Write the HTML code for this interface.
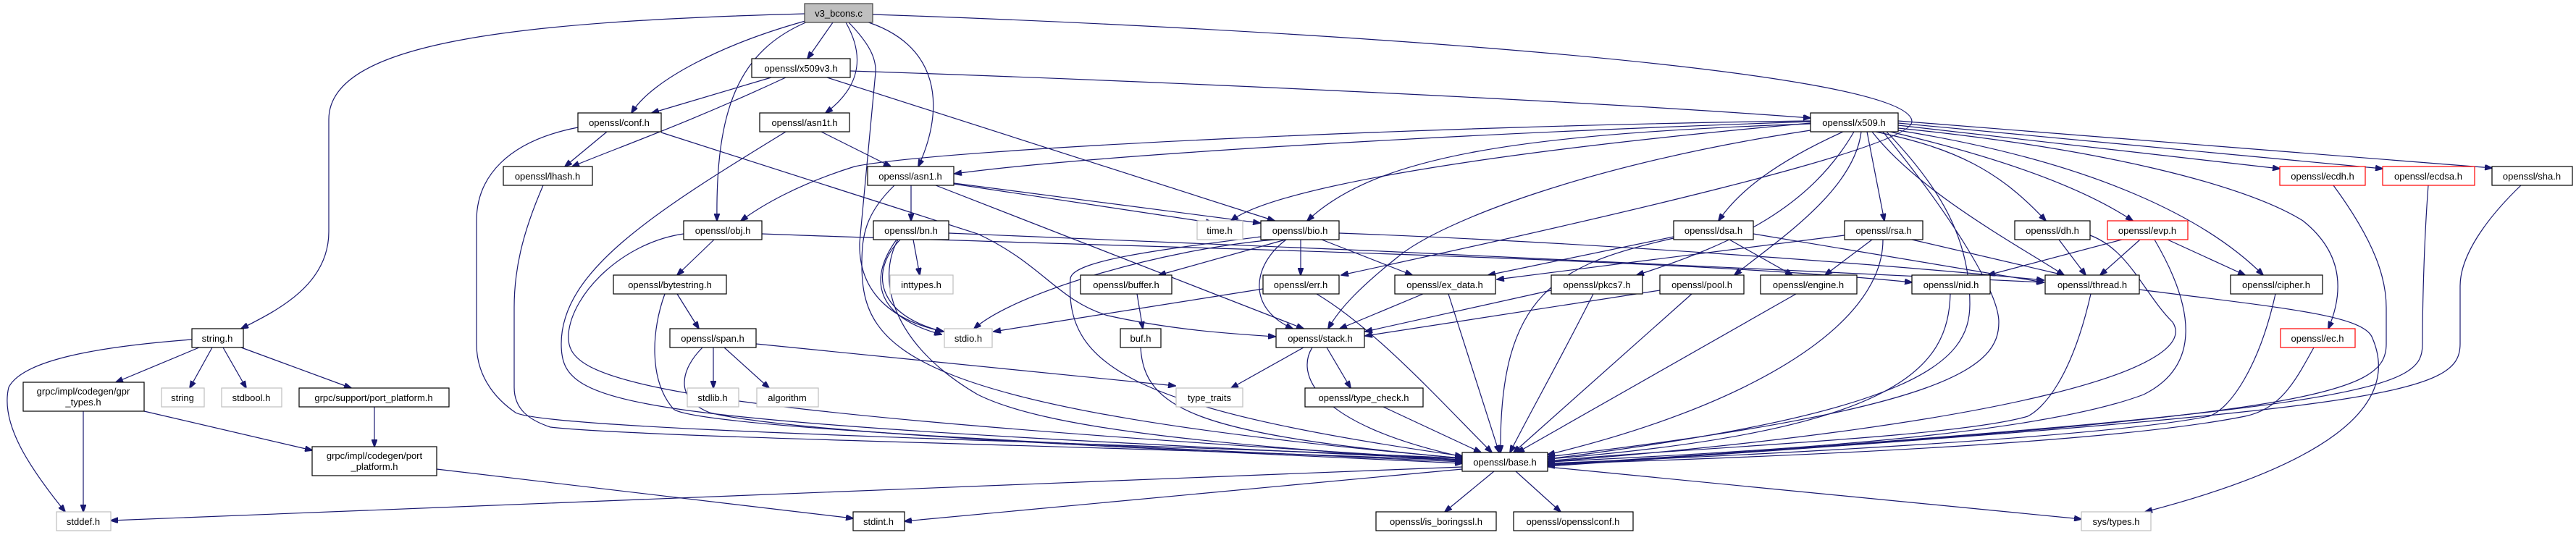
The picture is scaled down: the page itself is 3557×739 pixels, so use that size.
<!DOCTYPE html>
<html><head><meta charset="utf-8"><style>
html,body{margin:0;padding:0;background:#fff;}
svg{display:block;}
text{font-family:"Liberation Sans",sans-serif;font-size:13px;fill:#000;}
.e{fill:none;stroke:#191970;stroke-width:1.2;}
.n{fill:#fff;stroke:#000;stroke-width:1.2;}
.g{fill:#fff;stroke:#bfbfbf;stroke-width:1.2;}
.r{fill:#fff;stroke:#ff0000;stroke-width:1.2;}
</style></head><body>
<svg width="3557" height="739" viewBox="0 0 3557 739" xmlns="http://www.w3.org/2000/svg">
<defs><marker id="a" markerWidth="11" markerHeight="8" refX="10" refY="4" orient="auto" markerUnits="userSpaceOnUse"><path d="M0,0 L11,4 L0,8 z" fill="#191970" stroke="#191970"/></marker></defs>
<g marker-end="url(#a)">
<!-- v3_bcons.c -->
<path class="e" d="M1111,19 C700,30 454,60 454,165 L454,320 C454,395 380,430 333,454"/>
<path class="e" d="M1112,29 C1000,60 900,110 872,156"/>
<path class="e" d="M1150,31 L1115,81"/>
<path class="e" d="M1168,31 C1190,70 1195,115 1140,156"/>
<path class="e" d="M1172,31 C1200,60 1210,80 1209,100 L1187,335 C1185,410 1240,445 1303,458"/>
<path class="e" d="M1190,28 C1300,60 1305,150 1268,230"/>
<path class="e" d="M1115,30 C1020,70 988,150 990,305"/>
<path class="e" d="M1205,20 C1800,40 2640,95 2640,168 C2640,205 2200,305 1852,380"/>
<!-- x509v3.h -->
<path class="e" d="M1174,98 C1600,112 2200,140 2500,163"/>
<path class="e" d="M1065,107 L900,156"/>
<path class="e" d="M1085,107 C950,170 850,205 790,230"/>
<path class="e" d="M1142,107 L1760,305"/>
<!-- conf.h -->
<path class="e" d="M838,182 L780,230"/>
<path class="e" d="M798,176 C700,195 658,245 658,305 L658,475 C658,525 690,555 712,570 C760,595 1500,610 2019,633"/>
<path class="e" d="M913,183 L1350,323 C1440,365 1460,415 1530,436 C1620,456 1700,461 1761,465"/>
<!-- lhash.h -->
<path class="e" d="M750,256 C720,325 710,375 710,425 L710,535 C710,565 730,580 760,590 C900,605 1500,615 2019,636"/>
<!-- asn1t.h -->
<path class="e" d="M1134,182 L1230,230"/>
<path class="e" d="M1085,182 C900,295 775,375 775,475 C775,565 850,580 2019,635"/>
<!-- asn1.h -->
<path class="e" d="M1258,256 L1258,305"/>
<path class="e" d="M1317,254 L1675,308"/>
<path class="e" d="M1317,253 L1740,308"/>
<path class="e" d="M1292,256 L1800,454"/>
<path class="e" d="M1235,256 C1195,295 1190,325 1190,365 C1190,485 1250,565 2019,633"/>
<!-- x509 -> asn1, obj -->
<path class="e" d="M2500,168 C2000,185 1500,215 1318,240"/>
<path class="e" d="M2500,167 C2000,173 1300,205 1180,230 C1100,255 1050,285 1023,305"/>
<!-- bn.h -->
<path class="e" d="M1261,331 L1270,380"/>
<path class="e" d="M1243,331 C1200,375 1210,435 1302,458"/>
<path class="e" d="M1238,331 C1195,390 1215,440 1300,462"/>
<path class="e" d="M1240,331 C1210,385 1230,475 1350,545 C1450,595 1700,615 2019,637"/>
<path class="e" d="M1310,322 C1800,340 2500,375 2822,390"/>
<!-- obj.h -->
<path class="e" d="M986,331 L935,380"/>
<path class="e" d="M944,323 C860,335 790,405 785,461 C780,525 860,565 2019,635"/>
<path class="e" d="M1052,323 C1500,340 2300,355 2640,390"/>
<!-- bytestring.h -->
<path class="e" d="M935,406 L965,454"/>
<path class="e" d="M918,406 C900,455 895,525 930,565 C960,590 1500,615 2019,638"/>
<!-- span.h -->
<path class="e" d="M985,480 L985,536"/>
<path class="e" d="M1000,480 L1062,536"/>
<path class="e" d="M1044,475 L1623,533"/>
<path class="e" d="M970,480 C940,510 930,550 980,570 C1100,600 1600,620 2019,640"/>
<!-- bio.h -->
<path class="e" d="M1760,331 C1600,345 1400,405 1345,454"/>
<path class="e" d="M1775,331 L1600,380"/>
<path class="e" d="M1796,331 L1796,380"/>
<path class="e" d="M1776,331 C1730,365 1720,425 1785,454"/>
<path class="e" d="M1825,331 L1950,380"/>
<path class="e" d="M1849,322 C2200,335 2600,365 2822,387"/>
<path class="e" d="M1741,327 C1600,345 1480,360 1478,385 C1470,505 1560,565 2019,630"/>
<path class="e" d="M2500,171 C2100,185 1900,215 1805,305"/>
<!-- buffer, buf -->
<path class="e" d="M1570,406 L1578,454"/>
<path class="e" d="M1575,480 C1580,565 1650,600 2019,633"/>
<!-- err.h -->
<path class="e" d="M1744,399 L1372,458"/>
<path class="e" d="M1818,406 C1900,455 1990,555 2060,625"/>
<!-- ex_data.h -->
<path class="e" d="M1965,406 L1850,454"/>
<path class="e" d="M2000,406 L2070,625"/>
<!-- stack.h -->
<path class="e" d="M1800,480 L1700,536"/>
<path class="e" d="M1832,480 L1865,536"/>
<path class="e" d="M1812,480 C1790,515 1810,585 2019,631"/>
<path class="e" d="M1910,562 L2045,625"/>
<!-- pkcs7, pool, engine -->
<path class="e" d="M2142,401 L1885,458"/>
<path class="e" d="M2200,406 C2150,505 2110,575 2085,625"/>
<path class="e" d="M2292,401 L1885,464"/>
<path class="e" d="M2336,406 L2090,625"/>
<path class="e" d="M2480,406 L2095,625"/>
<!-- dsa.h -->
<path class="e" d="M2311,327 L2055,380"/>
<path class="e" d="M2388,331 L2475,380"/>
<path class="e" d="M2311,329 C2150,365 2070,405 2072,625"/>
<path class="e" d="M2421,323 L2822,390"/>
<!-- rsa.h -->
<path class="e" d="M2547,325 L2067,386"/>
<path class="e" d="M2585,331 L2520,380"/>
<path class="e" d="M2600,331 C2600,455 2400,565 2137,628"/>
<path class="e" d="M2640,331 L2850,380"/>
<!-- nid, thread -->
<path class="e" d="M2693,406 C2690,505 2630,595 2137,634"/>
<path class="e" d="M2887,406 C2860,525 2820,565 2800,575 C2700,605 2300,620 2137,637"/>
<path class="e" d="M2954,400 C3150,425 3260,435 3275,465 C3320,565 3200,645 2962,707"/>
<!-- base.h -->
<path class="e" d="M2137,645 L2874,717"/>
<path class="e" d="M2019,645 L153,719"/>
<path class="e" d="M2019,648 L1249,720"/>
<path class="e" d="M2063,651 L1995,707"/>
<path class="e" d="M2093,651 L2155,707"/>
<path class="e" d="M603,648 L1178,716"/>
<!-- string.h -->
<path class="e" d="M265,469 C120,480 30,500 12,535 C0,585 40,645 90,707"/>
<path class="e" d="M275,480 L160,528"/>
<path class="e" d="M293,480 L262,536"/>
<path class="e" d="M308,480 L340,536"/>
<path class="e" d="M333,480 L485,536"/>
<path class="e" d="M115,568 L115,707"/>
<path class="e" d="M199,568 L431,622"/>
<path class="e" d="M517,562 L517,617"/>
<!-- x509.h -->
<path class="e" d="M2500,170 C2000,215 1750,265 1700,305"/>
<path class="e" d="M2500,180 C2200,225 1990,305 1930,355 C1880,395 1850,425 1834,454"/>
<path class="e" d="M2545,182 C2450,225 2400,265 2373,305"/>
<path class="e" d="M2560,182 C2500,285 2400,335 2260,380"/>
<path class="e" d="M2570,182 C2560,265 2450,335 2395,380"/>
<path class="e" d="M2578,182 L2602,305"/>
<path class="e" d="M2590,182 C2700,205 2760,235 2825,305"/>
<path class="e" d="M2610,182 C2750,215 2870,255 2945,305"/>
<path class="e" d="M2585,182 C2650,265 2780,335 2850,380"/>
<path class="e" d="M2621,180 C2900,225 3050,305 3125,380"/>
<path class="e" d="M2621,177 C2900,205 3100,255 3180,305 C3230,345 3240,395 3215,454"/>
<path class="e" d="M2621,173 L3148,233"/>
<path class="e" d="M2621,170 L3290,233"/>
<path class="e" d="M2621,167 L3441,232"/>
<path class="e" d="M2600,182 C2700,305 2760,405 2760,445 C2760,505 2700,565 2137,631"/>
<path class="e" d="M2605,182 C2680,260 2720,330 2720,420 C2720,500 2650,570 2137,634"/>
<!-- evp.h -->
<path class="e" d="M2930,331 L2745,380"/>
<path class="e" d="M2955,331 L2900,380"/>
<path class="e" d="M2993,331 L3100,380"/>
<path class="e" d="M2975,331 C3030,425 3040,505 2960,545 C2800,605 2400,625 2137,638"/>
<!-- dh.h -->
<path class="e" d="M2843,331 L2880,380"/>
<path class="e" d="M2886,325 C2940,345 2960,405 3000,445 C3040,505 2800,585 2137,638"/>
<!-- cipher, ec, ecdh, ecdsa, sha -->
<path class="e" d="M3142,406 C3120,505 3080,565 3050,575 C2900,605 2400,630 2137,640"/>
<path class="e" d="M3195,480 C3170,525 3150,565 3100,575 C2900,615 2400,633 2137,641"/>
<path class="e" d="M3222,256 C3280,335 3295,385 3295,425 L3295,475 C3295,545 3200,575 2137,642"/>
<path class="e" d="M3353,256 C3347,335 3345,425 3345,475 C3345,535 3300,565 2137,643"/>
<path class="e" d="M3481,256 C3430,305 3397,355 3397,395 L3397,475 C3397,545 3300,565 2137,644"/>
</g>
<!-- nodes -->
<rect x="1111" y="5" width="94" height="26" fill="#bfbfbf" stroke="#404040" stroke-width="1.2"/><text x="1158" y="23" text-anchor="middle">v3_bcons.c</text>
<g>
<rect class="n" x="1038" y="81" width="136" height="26"/><text x="1106" y="99" text-anchor="middle">openssl/x509v3.h</text>
<rect class="n" x="798" y="156" width="115" height="26"/><text x="855" y="174" text-anchor="middle">openssl/conf.h</text>
<rect class="n" x="1049" y="156" width="124" height="26"/><text x="1111" y="174" text-anchor="middle">openssl/asn1t.h</text>
<rect class="n" x="2500" y="156" width="121" height="26"/><text x="2560" y="174" text-anchor="middle">openssl/x509.h</text>
<rect class="n" x="695" y="230" width="123" height="26"/><text x="756" y="248" text-anchor="middle">openssl/lhash.h</text>
<rect class="n" x="1198" y="230" width="119" height="26"/><text x="1257" y="248" text-anchor="middle">openssl/asn1.h</text>
<rect class="r" x="3148" y="230" width="118" height="26"/><text x="3207" y="248" text-anchor="middle">openssl/ecdh.h</text>
<rect class="r" x="3290" y="230" width="127" height="26"/><text x="3353" y="248" text-anchor="middle">openssl/ecdsa.h</text>
<rect class="n" x="3441" y="230" width="111" height="26"/><text x="3496" y="248" text-anchor="middle">openssl/sha.h</text>
<rect class="n" x="944" y="305" width="108" height="26"/><text x="998" y="323" text-anchor="middle">openssl/obj.h</text>
<rect class="n" x="1206" y="305" width="104" height="26"/><text x="1258" y="323" text-anchor="middle">openssl/bn.h</text>
<rect class="g" x="1653" y="305" width="63" height="26"/><text x="1684" y="323" text-anchor="middle">time.h</text>
<rect class="n" x="1741" y="305" width="108" height="26"/><text x="1795" y="323" text-anchor="middle">openssl/bio.h</text>
<rect class="n" x="2311" y="305" width="110" height="26"/><text x="2366" y="323" text-anchor="middle">openssl/dsa.h</text>
<rect class="n" x="2547" y="305" width="108" height="26"/><text x="2601" y="323" text-anchor="middle">openssl/rsa.h</text>
<rect class="n" x="2782" y="305" width="104" height="26"/><text x="2834" y="323" text-anchor="middle">openssl/dh.h</text>
<rect class="r" x="2910" y="305" width="111" height="26"/><text x="2965" y="323" text-anchor="middle">openssl/evp.h</text>
<rect class="n" x="847" y="380" width="156" height="26"/><text x="925" y="398" text-anchor="middle">openssl/bytestring.h</text>
<rect class="g" x="1229" y="380" width="87" height="26"/><text x="1272" y="398" text-anchor="middle">inttypes.h</text>
<rect class="n" x="1492" y="380" width="126" height="26"/><text x="1555" y="398" text-anchor="middle">openssl/buffer.h</text>
<rect class="n" x="1744" y="380" width="105" height="26"/><text x="1796" y="398" text-anchor="middle">openssl/err.h</text>
<rect class="n" x="1926" y="380" width="139" height="26"/><text x="1995" y="398" text-anchor="middle">openssl/ex_data.h</text>
<rect class="n" x="2142" y="380" width="126" height="26"/><text x="2205" y="398" text-anchor="middle">openssl/pkcs7.h</text>
<rect class="n" x="2292" y="380" width="116" height="26"/><text x="2350" y="398" text-anchor="middle">openssl/pool.h</text>
<rect class="n" x="2431" y="380" width="133" height="26"/><text x="2497" y="398" text-anchor="middle">openssl/engine.h</text>
<rect class="n" x="2640" y="380" width="108" height="26"/><text x="2694" y="398" text-anchor="middle">openssl/nid.h</text>
<rect class="n" x="2824" y="380" width="130" height="26"/><text x="2889" y="398" text-anchor="middle">openssl/thread.h</text>
<rect class="n" x="3080" y="380" width="127" height="26"/><text x="3143" y="398" text-anchor="middle">openssl/cipher.h</text>
<rect class="n" x="265" y="454" width="71" height="26"/><text x="300" y="472" text-anchor="middle">string.h</text>
<rect class="n" x="925" y="454" width="119" height="26"/><text x="984" y="472" text-anchor="middle">openssl/span.h</text>
<rect class="g" x="1304" y="454" width="66" height="26"/><text x="1337" y="472" text-anchor="middle">stdio.h</text>
<rect class="n" x="1547" y="454" width="56" height="26"/><text x="1575" y="472" text-anchor="middle">buf.h</text>
<rect class="n" x="1762" y="454" width="122" height="26"/><text x="1823" y="472" text-anchor="middle">openssl/stack.h</text>
<rect class="r" x="3149" y="454" width="103" height="26"/><text x="3200" y="472" text-anchor="middle">openssl/ec.h</text>
<rect class="n" x="32" y="528" width="167" height="40"/><text x="115" y="545" text-anchor="middle">grpc/impl/codegen/gpr</text><text x="115" y="560" text-anchor="middle">_types.h</text>
<rect class="g" x="223" y="536" width="59" height="26"/><text x="252" y="554" text-anchor="middle">string</text>
<rect class="g" x="306" y="536" width="83" height="26"/><text x="347" y="554" text-anchor="middle">stdbool.h</text>
<rect class="n" x="413" y="536" width="207" height="26"/><text x="516" y="554" text-anchor="middle">grpc/support/port_platform.h</text>
<rect class="g" x="949" y="536" width="71" height="26"/><text x="984" y="554" text-anchor="middle">stdlib.h</text>
<rect class="g" x="1045" y="536" width="85" height="26"/><text x="1087" y="554" text-anchor="middle">algorithm</text>
<rect class="g" x="1624" y="536" width="92" height="26"/><text x="1670" y="554" text-anchor="middle">type_traits</text>
<rect class="n" x="1802" y="536" width="163" height="26"/><text x="1883" y="554" text-anchor="middle">openssl/type_check.h</text>
<rect class="n" x="431" y="617" width="172" height="40"/><text x="517" y="634" text-anchor="middle">grpc/impl/codegen/port</text><text x="517" y="649" text-anchor="middle">_platform.h</text>
<rect class="n" x="2019" y="625" width="118" height="26"/><text x="2078" y="643" text-anchor="middle">openssl/base.h</text>
<rect class="g" x="78" y="707" width="75" height="26"/><text x="115" y="725" text-anchor="middle">stddef.h</text>
<rect class="n" x="1178" y="707" width="71" height="26"/><text x="1213" y="725" text-anchor="middle">stdint.h</text>
<rect class="n" x="1900" y="707" width="166" height="26"/><text x="1983" y="725" text-anchor="middle">openssl/is_boringssl.h</text>
<rect class="n" x="2090" y="707" width="165" height="26"/><text x="2172" y="725" text-anchor="middle">openssl/opensslconf.h</text>
<rect class="g" x="2874" y="707" width="96" height="26"/><text x="2922" y="725" text-anchor="middle">sys/types.h</text>
</g>
</svg>
</body></html>
